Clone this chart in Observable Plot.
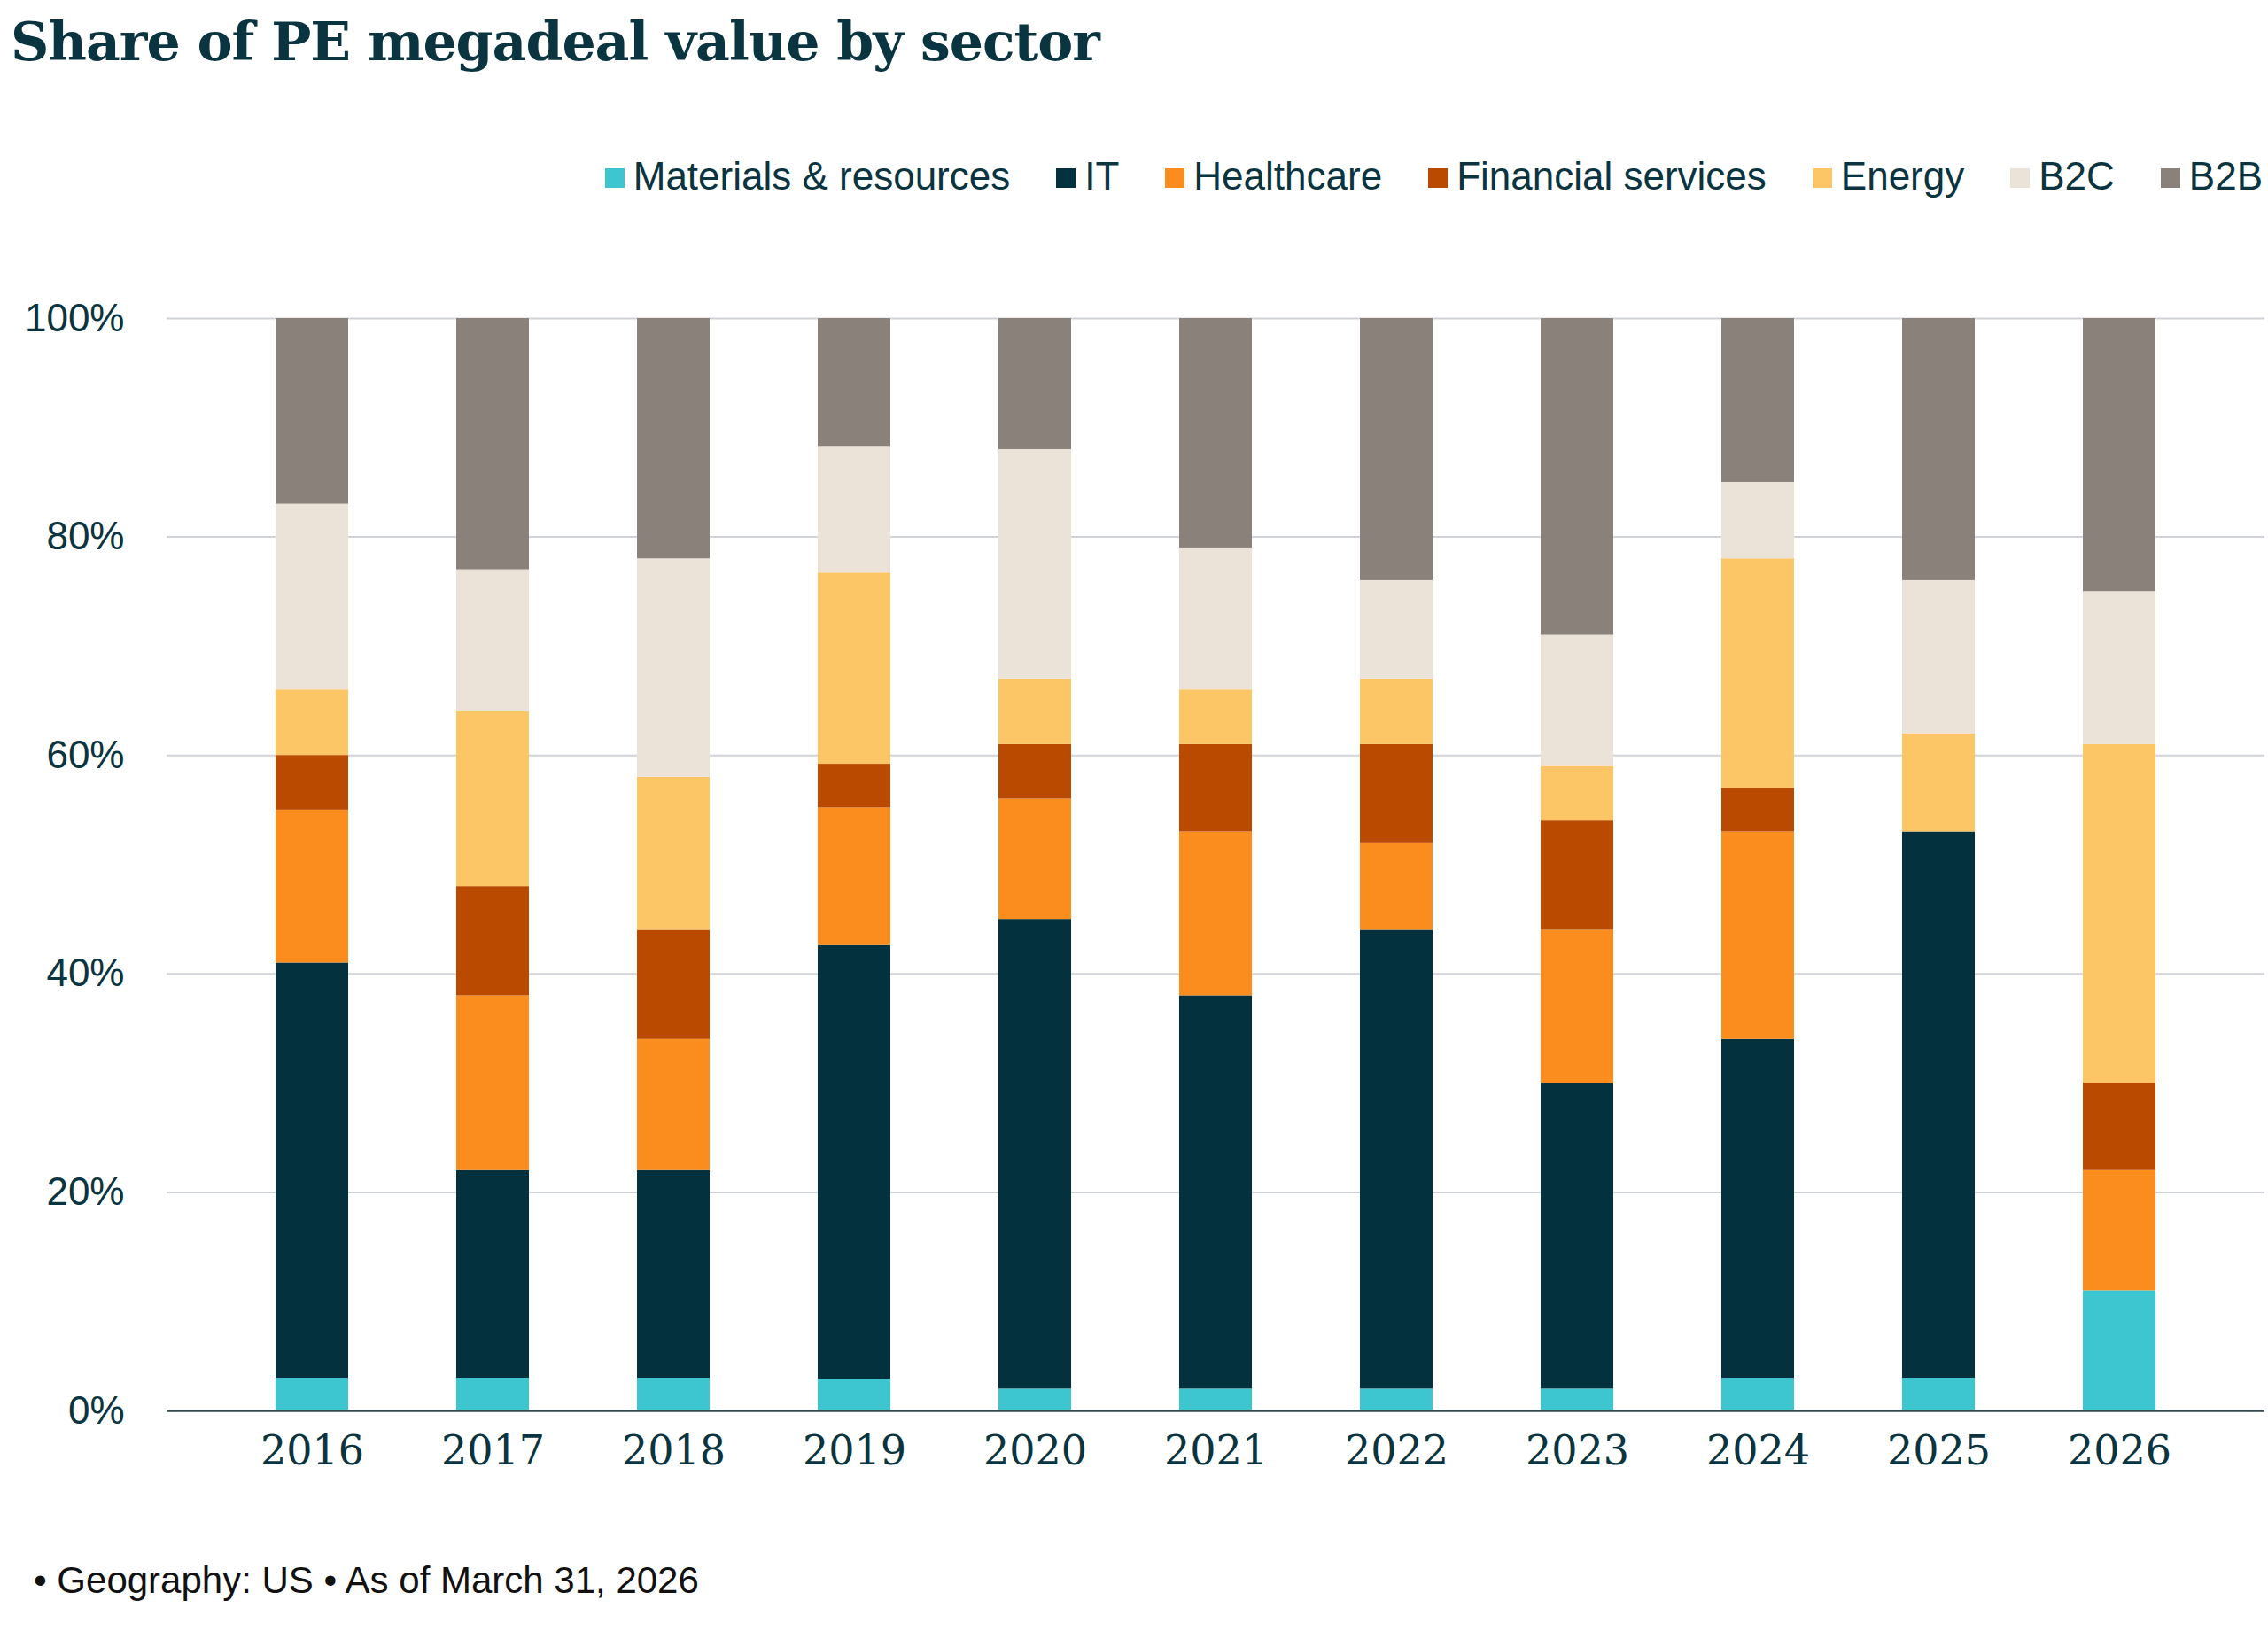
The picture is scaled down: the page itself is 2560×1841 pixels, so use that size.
<!DOCTYPE html>
<html><head><meta charset="utf-8">
<script src="https://cdn.jsdelivr.net/npm/d3@7"></script>
<script src="https://cdn.jsdelivr.net/npm/@observablehq/plot@0.6"></script>
<style>
body{margin:0;background:#fff;width:2560px;height:1841px;position:relative;overflow:hidden}
#title{position:absolute;left:12px;top:12px;font:bold 60px "DejaVu Serif","Liberation Serif",serif;color:#0a3440;letter-spacing:-1px}
#legend{position:absolute;right:6px;top:174px;font:44px "Liberation Sans",Arial,sans-serif;color:#0a3440;display:flex;gap:0 52px}
#legend span.sw{display:inline-block;width:22px;height:22px;margin-right:10px;vertical-align:2px}
#chart{position:absolute;left:0;top:0}
#caption{position:absolute;left:38px;top:1760px;font:42px "Liberation Sans",Arial,sans-serif;color:#111}
</style></head><body>
<div id="title">Share of PE megadeal value by sector</div>
<div id="legend"></div>
<div id="chart"></div>
<div id="caption">• Geography: US • As of March 31, 2026</div>
<script>
const years = ["2016","2017","2018","2019","2020","2021","2022","2023","2024","2025","2026"];
const series = ["Materials & resources","IT","Healthcare","Financial services","Energy","B2C","B2B"];
const colors = ["#3ec6d0","#03313e","#fb8c1e","#b94a00","#fcc667","#ebe3d7","#8a817a"];
const materials = [3,3,3,2.9,2,2,2,2,3,3,11];
const it =        [38,19,19,39.7,43,36,42,28,31,50,0];
const healthcare =[14,16,12,12.6,11,15,8,14,19,0,11];
const financial = [5,10,10,4,5,8,9,10,4,0,8];
const energy =    [6,16,14,17.5,6,5,6,5,21,9,31];
const b2c =       [17,13,20,11.6,21,13,9,12,7,14,14];
const b2b =       [17,23,22,11.7,12,21,24,29,15,24,25];
const yTicks = [0,20,40,60,80,100];

const values = [materials,it,healthcare,financial,energy,b2c,b2b];
const data = [];
series.forEach((s,i)=>years.forEach((y,j)=>data.push({year:y,sector:s,value:values[i][j]})));

const leg = document.getElementById("legend");
series.forEach((s,i)=>{const d=document.createElement("div");d.innerHTML=`<span class="sw" style="background:${colors[i]}"></span>${s.replace("&","&amp;")}`;leg.appendChild(d);});

const chart = Plot.plot({
  width:2560, height:1700,
  marginLeft:188, marginRight:4, marginTop:359, marginBottom:108,
  style:{fontFamily:"'Liberation Sans',Arial,sans-serif",fontSize:"44px",color:"#0a3440",background:"transparent"},
  x:{domain:years,padding:0.6,label:null},
  y:{domain:[0,100],label:null},
  color:{domain:series,range:colors},
  marks:[
    Plot.gridY(yTicks,{stroke:"#d0d3d8",strokeOpacity:1,strokeWidth:2}),
    Plot.barY(data,Plot.stackY({order:series},{x:"year",y:"value",fill:"sector"})),
    Plot.ruleY([0],{stroke:"#3a4a52",strokeWidth:2.5}),
    Plot.axisY(yTicks,{tickSize:0,tickPadding:48,tickFormat:d=>d+"%",fontSize:44,fill:"#0a3440"}),
    Plot.axisX({tickSize:0,tickPadding:28,fontSize:46,fontFamily:"'DejaVu Serif','Liberation Serif',serif",fill:"#0a3440",label:null})
  ]
});
document.getElementById("chart").appendChild(chart);
</script>
</body></html>
